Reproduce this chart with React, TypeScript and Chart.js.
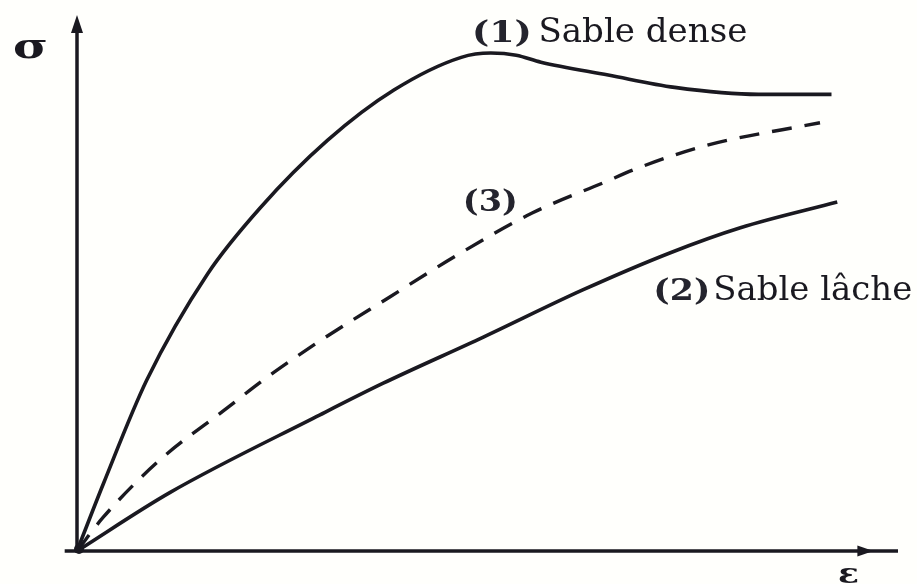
import React, { useEffect, useRef } from "react";
import { Chart, registerables } from "chart.js";

Chart.register(...registerables);

// ε (strain, arbitrary units) and σ (stress, arbitrary units)
const denseStrain = [0, 3.2, 8.5, 15.9, 22.3, 30.5, 38.6, 46.8, 50.4, 53.5, 56.5, 64.7, 72.8, 83.0, 91.9];
const denseStress = [0, 12.5, 31.9, 51.7, 64.0, 76.6, 86.0, 92.1, 92.9, 92.5, 91.2, 88.8, 86.5, 85.2, 85.2];

const looseStrain = [0, 11.3, 29.6, 37.3, 49.5, 61.6, 72.2, 80.8, 92.6];
const looseStress = [0, 10.9, 25.4, 31.3, 39.9, 48.7, 55.6, 60.3, 65.1];

const midStrain = [0, 3.2, 10.1, 18.3, 22.7, 29.2, 38.1, 46.3, 55.5, 64.1, 68.6, 76.7, 90.5];
const midStress = [0, 6.3, 17.0, 26.7, 31.9, 38.8, 47.4, 55.2, 63.1, 68.7, 71.6, 75.7, 79.9];

const seriesNames = ["(1) Sable dense", "(2) Sable lâche", "(3)"];
const axisNames = ["ε", "σ"];

const INK = "#1a1920";
const BG = "#fffffc";
const SERIF = "'DejaVu Serif', 'Liberation Serif', serif";

const toPoints = (xs: number[], ys: number[]) => xs.map((x, i) => ({ x, y: ys[i] }));

type Label = { text: string; x: number; y: number; w: number; font: string; color?: string };

const labels: Label[] = [
  { text: "(1)", x: 48.1, y: 95.0, w: 60, font: `bold 30px ${SERIF}`, color: "#24242d" },
  { text: "Sable dense", x: 56.2, y: 95.0, w: 209, font: `33px ${SERIF}` },
  { text: "(3)", x: 47.0, y: 63.4, w: 55, font: `bold 30px ${SERIF}`, color: "#24242d" },
  { text: "(2)", x: 70.2, y: 46.8, w: 57, font: `bold 30px ${SERIF}`, color: "#24242d" },
  { text: "Sable lâche", x: 77.5, y: 46.8, w: 199, font: `33px ${SERIF}` },
  { text: axisNames[1], x: -7.8, y: 92.0, w: 35, font: `bold 36px ${SERIF}` },
  { text: axisNames[0], x: 92.7, y: -6.0, w: 21, font: `bold 28px ${SERIF}` },
];

function fitText(ctx: CanvasRenderingContext2D, l: Label, px: number, py: number) {
  ctx.font = l.font;
  const m = ctx.measureText(l.text).width;
  ctx.save();
  ctx.translate(px, py);
  ctx.scale(l.w / m, 1);
  ctx.fillStyle = l.color || INK;
  ctx.textBaseline = "alphabetic";
  ctx.textAlign = "left";
  ctx.fillText(l.text, 0, 0);
  ctx.restore();
}

const decorPlugin = {
  id: "decor",
  beforeDraw(chart: any) {
    const { ctx, width, height } = chart;
    ctx.save();
    ctx.fillStyle = BG;
    ctx.fillRect(0, 0, width, height);
    ctx.restore();
  },
  beforeDatasetsDraw(chart: any) {
    const ctx: CanvasRenderingContext2D = chart.ctx;
    const xs = chart.scales.x;
    const ys = chart.scales.y;
    const x0 = xs.getPixelForValue(0);
    const y0 = ys.getPixelForValue(0);
    const xEnd = xs.getPixelForValue(100);
    const yEnd = ys.getPixelForValue(100);
    const xStart = xs.getPixelForValue(-1.5);
    ctx.save();
    ctx.strokeStyle = INK;
    ctx.fillStyle = INK;
    ctx.lineWidth = 3.5;
    ctx.lineCap = "butt";
    // x axis
    ctx.beginPath();
    ctx.moveTo(xStart, y0);
    ctx.lineTo(xEnd, y0);
    ctx.stroke();
    // y axis
    ctx.beginPath();
    ctx.moveTo(x0, y0 + 1.5);
    ctx.lineTo(x0, yEnd + 6);
    ctx.stroke();
    // y arrowhead
    ctx.beginPath();
    ctx.moveTo(x0, yEnd);
    ctx.lineTo(x0 - 6, yEnd + 18);
    ctx.lineTo(x0 + 6, yEnd + 18);
    ctx.closePath();
    ctx.fill();
    // x arrowhead
    const tip = xs.getPixelForValue(97);
    ctx.beginPath();
    ctx.moveTo(tip, y0);
    ctx.lineTo(tip - 16, y0 - 5.5);
    ctx.lineTo(tip - 16, y0 + 5.5);
    ctx.closePath();
    ctx.fill();
    // origin blob
    ctx.beginPath();
    ctx.arc(x0 + 2, y0 - 2, 5, 0, Math.PI * 2);
    ctx.fill();
    ctx.restore();
  },
  afterDatasetsDraw(chart: any) {
    const ctx: CanvasRenderingContext2D = chart.ctx;
    const xs = chart.scales.x;
    const ys = chart.scales.y;
    labels.forEach((l) => fitText(ctx, l, xs.getPixelForValue(l.x), ys.getPixelForValue(l.y)));
  },
};

export default function App() {
  const ref = useRef<HTMLCanvasElement | null>(null);
  useEffect(() => {
    if (!ref.current) return;
    const line = {
      borderColor: INK,
      borderWidth: 3.6,
      pointRadius: 0,
      pointHoverRadius: 0,
      cubicInterpolationMode: "monotone" as const,
      fill: false,
    };
    const chart = new Chart(ref.current, {
      type: "line",
      data: {
        datasets: [
          { label: seriesNames[0], data: toPoints(denseStrain, denseStress), ...line },
          { label: seriesNames[1], data: toPoints(looseStrain, looseStress), ...line },
          { label: seriesNames[2], data: toPoints(midStrain, midStress), ...line, borderWidth: 3.4, borderDash: [20, 13] },
        ],
      },
      options: {
        animation: false,
        responsive: true,
        maintainAspectRatio: false,
        layout: { padding: { left: 77, right: 19, top: 15, bottom: 33 } },
        plugins: { legend: { display: false }, tooltip: { enabled: false } },
        scales: {
          x: { type: "linear", min: 0, max: 100, display: false },
          y: { type: "linear", min: 0, max: 100, display: false },
        },
      },
      plugins: [decorPlugin],
    });
    return () => chart.destroy();
  }, []);
  return (
    <div style={{ position: "fixed", left: 0, top: 0, width: 917, height: 584, background: BG }}>
      <canvas ref={ref} />
    </div>
  );
}
